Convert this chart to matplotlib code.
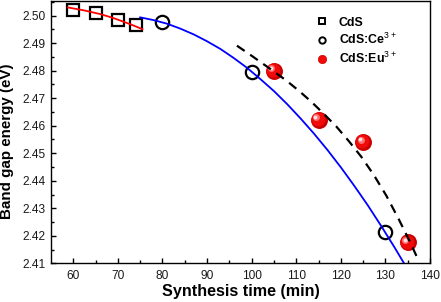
import matplotlib
matplotlib.use("Agg")
import matplotlib.pyplot as plt
from matplotlib.lines import Line2D
from matplotlib.transforms import offset_copy

plt.rcParams['font.family'] = ['Liberation Sans', 'DejaVu Sans']
plt.rcParams['mathtext.fontset'] = 'custom'
plt.rcParams['mathtext.rm'] = 'Liberation Sans'
plt.rcParams['mathtext.bf'] = 'Liberation Sans:bold'

# ---- data ----
cds_x = [60, 65, 70, 74]
cds_y = [2.5021, 2.5011, 2.4984, 2.4966]

ce_x = [80, 100, 130]
ce_y = [2.4976, 2.4797, 2.4215]

eu_x = [105, 115, 125, 135]
eu_y = [2.4800, 2.4622, 2.4541, 2.4176]

# fitted curves
red_fit_x = [58.8, 62.5, 66.0, 68.7, 71.3, 73.4, 75.5]
red_fit_y = [2.5030, 2.5019, 2.5006, 2.4993, 2.4978, 2.4965, 2.4951]

blue_fit_x = [75, 78, 81, 84, 87, 90, 93, 96, 99, 102, 105, 108, 111, 114,
              117, 120, 123, 126, 129, 132, 134.4]
blue_fit_y = [2.4994, 2.4984, 2.4971, 2.4953, 2.4932, 2.4907, 2.4879, 2.4846,
              2.4810, 2.4769, 2.4726, 2.4678, 2.4626, 2.4571, 2.4512, 2.4449,
              2.4382, 2.4312, 2.4237, 2.4159, 2.4094]

dash_fit_x = [96.7, 99.5, 102.3, 105.0, 107.8, 110.6, 113.4, 116.2, 119.0,
              121.8, 124.6, 127.4, 130.2, 133.0, 135.8, 137.2]
dash_fit_y = [2.4891, 2.4860, 2.4828, 2.4797, 2.4764, 2.4727, 2.4687, 2.4643,
              2.4597, 2.4544, 2.4487, 2.4421, 2.4346, 2.4260, 2.4168, 2.4118]

x_ticks = [60, 70, 80, 90, 100, 110, 120, 130, 140]
y_ticks = [2.41, 2.42, 2.43, 2.44, 2.45, 2.46, 2.47, 2.48, 2.49, 2.50]

labels = ['CdS', 'CdS:Ce$^{3+}$', 'CdS:Eu$^{3+}$']

fig = plt.figure(figsize=(4.41, 3.02), dpi=100)
ax = fig.add_axes([51/441, 1 - 263.3/302, (430-51)/441, (263.3-1)/302])

# markers
ax.plot(cds_x, cds_y, linestyle='none', marker='s', ms=8.2, mfc='none',
        mec='black', mew=1.6, zorder=3)
ax.plot(ce_x, ce_y, linestyle='none', marker='o', ms=9.6, mfc='none',
        mec='black', mew=1.6, zorder=3)

# glossy red spheres for Eu
ax.plot(eu_x, eu_y, linestyle='none', marker='o', ms=12.2, mfc='#c80000',
        mec='#c80000', mew=0, zorder=3)
t1 = offset_copy(ax.transData, fig=fig, x=-0.6, y=0.6, units='points')
ax.plot(eu_x, eu_y, linestyle='none', marker='o', ms=10.0, mfc='#f00a0a',
        mec='none', zorder=3.1, transform=t1)
t2 = offset_copy(ax.transData, fig=fig, x=-1.8, y=1.6, units='points')
ax.plot(eu_x, eu_y, linestyle='none', marker='o', ms=5.0, mfc='#ff7070',
        mec='none', zorder=3.2, transform=t2)
t3 = offset_copy(ax.transData, fig=fig, x=-2.2, y=2.0, units='points')
ax.plot(eu_x, eu_y, linestyle='none', marker='o', ms=2.8, mfc='#ffe0e0',
        mec='none', zorder=3.3, transform=t3)

# fit lines
ax.plot(red_fit_x, red_fit_y, color='#ff0000', lw=1.3, zorder=4)
ax.plot(blue_fit_x, blue_fit_y, color='#0000ff', lw=1.3, zorder=4)
ax.plot(dash_fit_x, dash_fit_y, color='black', lw=1.6, dashes=(4.2, 3.0), zorder=4)

ax.set_xlim(55, 140)
ax.set_ylim(2.41, 2.50534)
ax.set_xticks(x_ticks)
ax.set_yticks(y_ticks)
ax.set_xticklabels([str(v) for v in x_ticks])
ax.set_yticklabels([f'{v:.2f}' for v in y_ticks])
ax.set_xticks([65, 75, 85, 95, 105, 115, 125, 135], minor=True)
ax.set_yticks([2.415, 2.425, 2.435, 2.445, 2.455, 2.465, 2.475, 2.485, 2.495, 2.505], minor=True)

ax.tick_params(which='both', direction='in', top=False, right=False, width=1.0,
               colors='black', labelcolor='#1a1a1a', labelsize=8.6)
ax.tick_params(which='major', length=3.5)
ax.tick_params(which='minor', length=2.2)
ax.tick_params(axis='x', pad=4.5)
ax.tick_params(axis='y', pad=4.0)
for s in ax.spines.values():
    s.set_linewidth(1.0)

ax.set_xlabel('Synthesis time (min)', fontsize=11.6, fontweight='bold', labelpad=1.5)
ax.set_ylabel('Band gap energy (eV)', fontsize=10.9, fontweight='bold')
ax.yaxis.set_label_coords(-0.097, 0.464)

handles = [
    Line2D([], [], linestyle='none', marker='s', ms=4.2, mfc='none', mec='black', mew=1.4),
    Line2D([], [], linestyle='none', marker='o', ms=4.6, mfc='none', mec='black', mew=1.4),
    Line2D([], [], linestyle='none', marker='o', ms=6.0, mfc='#f00a0a', mec='#d00000', mew=0.5),
]
leg = ax.legend(handles, labels, loc='upper left', bbox_to_anchor=(0.7, 0.94),
                frameon=False, handlelength=1.0, handletextpad=0.8,
                labelspacing=0.28, borderpad=0, borderaxespad=0,
                prop={'size': 8.9, 'weight': 'bold'})

fig.savefig('out.png', dpi=100)
